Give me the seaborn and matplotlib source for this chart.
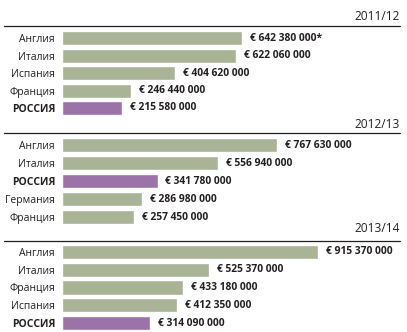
import matplotlib
matplotlib.use("Agg")
import matplotlib.pyplot as plt
import seaborn as sns
import pandas as pd
from matplotlib.lines import Line2D

sns.set_theme(style="white")
plt.rcParams['font.family'] = ['Open Sans', 'DejaVu Sans']

# Data (millions of euro)
years = ["2011/12", "2012/13", "2013/14"]
countries_1 = ["Англия", "Италия", "Испания", "Франция", "РОССИЯ"]
values_1 = [642.38, 622.06, 404.62, 246.44, 215.58]
labels_1 = ["€ 642 380 000*", "€ 622 060 000", "€ 404 620 000", "€ 246 440 000", "€ 215 580 000"]

countries_2 = ["Англия", "Италия", "РОССИЯ", "Германия", "Франция"]
values_2 = [767.63, 556.94, 341.78, 286.98, 257.45]
labels_2 = ["€ 767 630 000", "€ 556 940 000", "€ 341 780 000", "€ 286 980 000", "€ 257 450 000"]

countries_3 = ["Англия", "Италия", "Франция", "Испания", "РОССИЯ"]
values_3 = [915.37, 525.37, 433.18, 412.35, 314.09]
labels_3 = ["€ 915 370 000", "€ 525 370 000", "€ 433 180 000", "€ 412 350 000", "€ 314 090 000"]

highlight = "РОССИЯ"
GREEN = "#a9b497"
PURPLE = "#9b73a9"
TEXT = "#231f20"

W, H = 407, 332
fig = plt.figure(figsize=(W / 100, H / 100), dpi=100)

# panel geometry in pixels: (first bar center, last bar center, year label y, line y)
geom = [(38, 108, 17, 26), (145, 217, 124, 133), (252, 323, 229, 241)]
x0 = 62
px_per_unit = 0.28
xmax = (W - x0) / px_per_unit

panels = [(countries_1, values_1, labels_1), (countries_2, values_2, labels_2),
          (countries_3, values_3, labels_3)]

for (cats, vals, labs), year, (c0, c1, ylab, yline) in zip(panels, years, geom):
    s = (c1 - c0) / 4
    top = c0 - s / 2
    bot = c1 + s / 2
    ax = fig.add_axes([x0 / W, 1 - bot / H, (W - x0) / W, (bot - top) / H])
    df = pd.DataFrame({"country": cats, "value": vals})
    palette = {c: (PURPLE if c == highlight else GREEN) for c in cats}
    sns.barplot(data=df, y="country", x="value", hue="country", palette=palette,
                order=cats, orient="h", width=0.8, saturation=1, legend=False, ax=ax)
    ax.set_xlim(0, xmax)
    ax.set_ylim(4.5, -0.5)
    ax.set_xlabel("")
    ax.set_ylabel("")
    ax.set_xticks([])
    ax.set_yticks(range(len(cats)))
    ax.set_yticklabels(cats)
    ax.tick_params(axis="y", length=0, pad=5, labelsize=7.5, labelcolor=TEXT)
    for t in ax.get_yticklabels():
        if t.get_text() == highlight:
            t.set_fontweight("bold")
    for sp in ax.spines.values():
        sp.set_visible(False)
    ax.patch.set_alpha(0)
    for i, (v, lab) in enumerate(zip(vals, labs)):
        ax.annotate(lab, xy=(v, i), xytext=(5.5, 0), textcoords="offset points",
                    ha="left", va="center", fontsize=7.4, fontweight="bold", color=TEXT)
    fig.text(400 / W, 1 - ylab / H, year, ha="right", va="center",
             fontsize=8.6, color=TEXT)
    fig.add_artist(Line2D([4 / W, 400 / W], [1 - yline / H, 1 - yline / H],
                          color=TEXT, lw=0.9, transform=fig.transFigure))

fig.savefig("out.png", dpi=100)
